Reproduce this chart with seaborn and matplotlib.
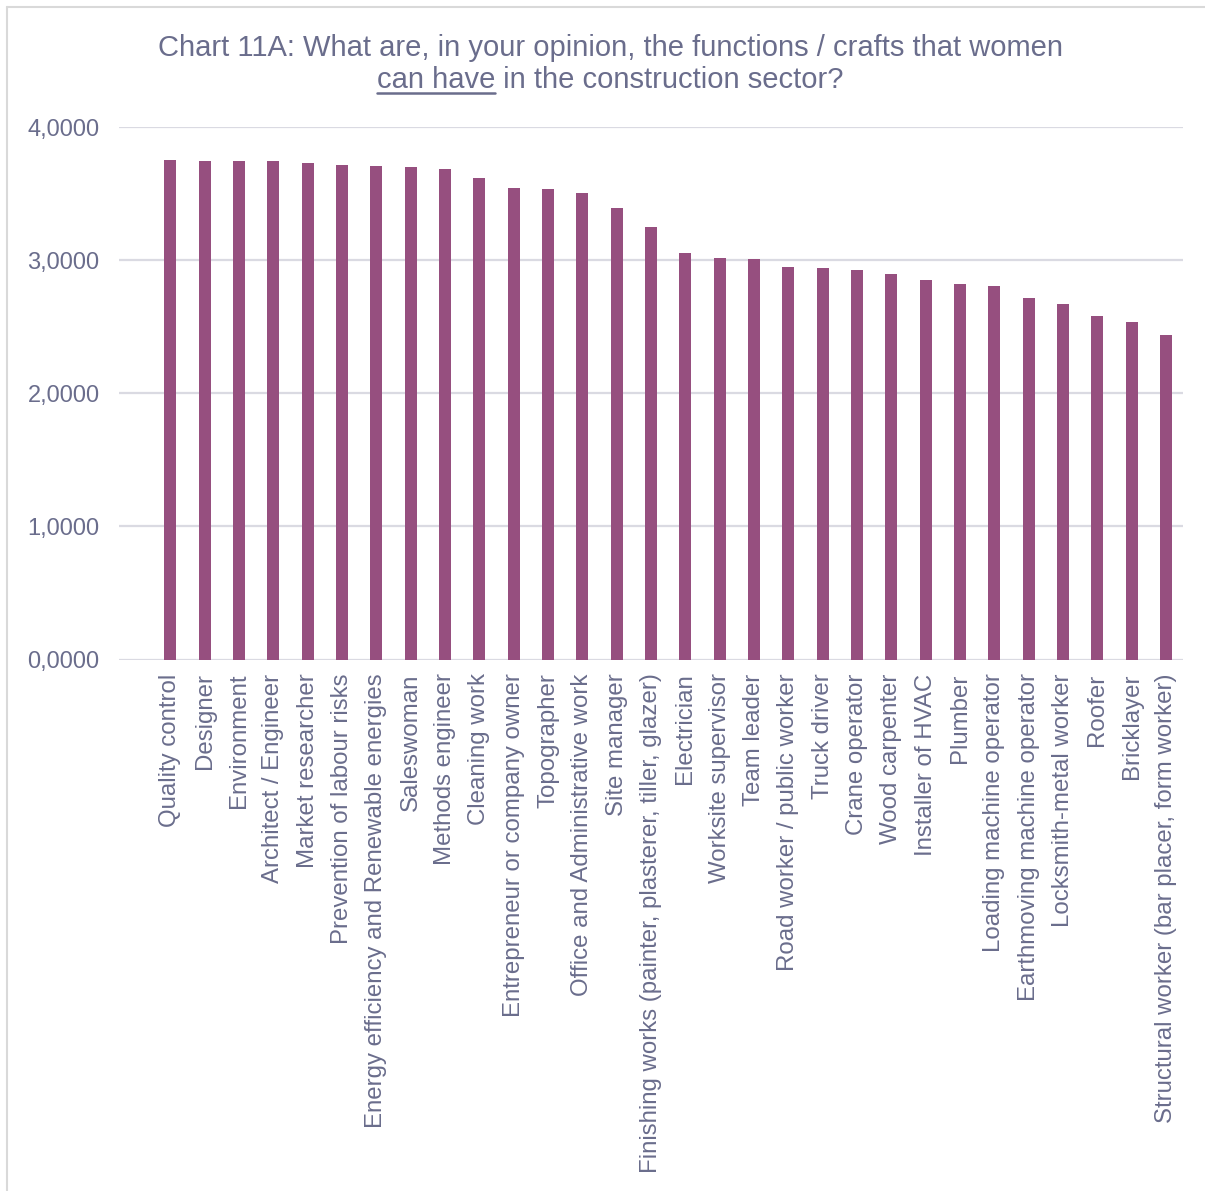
import matplotlib
matplotlib.use("Agg")
import matplotlib.pyplot as plt
from matplotlib.lines import Line2D
import seaborn as sns

categories = [
    "Quality control", "Designer", "Environment", "Architect / Engineer",
    "Market researcher", "Prevention of labour risks",
    "Energy efficiency and Renewable energies", "Saleswoman",
    "Methods engineer", "Cleaning work", "Entrepreneur or company owner",
    "Topographer", "Office and Administrative work", "Site manager",
    "Finishing works (painter, plasterer, tiller, glazer)", "Electrician",
    "Worksite supervisor", "Team leader", "Road worker / public worker",
    "Truck driver", "Crane operator", "Wood carpenter", "Installer of HVAC",
    "Plumber", "Loading machine operator", "Earthmoving machine operator",
    "Locksmith-metal worker", "Roofer", "Bricklayer",
    "Structural worker (bar placer, form worker)",
]
scores = [
    3.754, 3.749, 3.747, 3.744, 3.729, 3.717, 3.712, 3.699, 3.689, 3.617,
    3.546, 3.536, 3.509, 3.396, 3.248, 3.053, 3.015, 3.013, 2.953, 2.940,
    2.930, 2.895, 2.852, 2.820, 2.807, 2.714, 2.669, 2.579, 2.534, 2.436,
]
y_ticks = [0, 1, 2, 3, 4]
y_tick_labels = ["0,0000", "1,0000", "2,0000", "3,0000", "4,0000"]
title_line1 = "Chart 11A: What are, in your opinion, the functions / crafts that women"
title_emph = "can have"
title_rest = " in the construction sector?"

BAR = "#964f7f"
TEXT = "#6a6d8c"
GRID = "#dadae2"

sns.set_theme(style="white")
plt.rcParams["font.family"] = ["Liberation Sans", "DejaVu Sans"]

W, H = 1205, 1191
fig = plt.figure(figsize=(W / 100, H / 100), dpi=100)
fig.patch.set_facecolor("white")

left, right, top, bottom = 119, 1183, 127.3, 659.5
ax = fig.add_axes([left / W, 1 - bottom / H, (right - left) / W, (bottom - top) / H])

sns.barplot(x=categories, y=scores, color=BAR, saturation=1, width=0.35,
            ax=ax, linewidth=0)

ax.set_xlim(-1.5, 29.5)
ax.set_ylim(0, 4)
ax.set_yticks(y_ticks)
ax.set_yticklabels(y_tick_labels)
ax.yaxis.grid(True, color=GRID, linewidth=1.6)
ax.set_axisbelow(True)
for s in ax.spines.values():
    s.set_visible(False)
ax.set_xlabel("")
ax.set_ylabel("")
ax.tick_params(axis="y", length=0, pad=14, labelsize=17, labelcolor=TEXT)
ax.tick_params(axis="x", length=0, pad=10, labelsize=17.3, labelcolor=TEXT)
for lbl in ax.get_xticklabels():
    lbl.set_rotation(90)
    lbl.set_ha("center")
    lbl.set_va("top")

# title, second line with underlined emphasis
fs_title = 21
fig.text(610 / W, 1 - 56 / H, title_line1, ha="center", va="baseline",
         fontsize=fs_title, color=TEXT)
t_emph = fig.text(0, 1 - 88 / H, title_emph, ha="left", va="baseline",
                  fontsize=fs_title, color=TEXT)
t_rest = fig.text(0, 1 - 88 / H, title_rest, ha="left", va="baseline",
                  fontsize=fs_title, color=TEXT)
fig.canvas.draw()
r = fig.canvas.get_renderer()
w1 = t_emph.get_window_extent(r).width
w2 = t_rest.get_window_extent(r).width
x0 = 610 - (w1 + w2) / 2
t_emph.set_x(x0 / W)
t_rest.set_x((x0 + w1) / W)
fig.add_artist(Line2D([x0 / W, (x0 + w1) / W], [1 - 92.5 / H, 1 - 92.5 / H],
                      color=TEXT, linewidth=1.8))

# chart frame (top and left edges)
fig.add_artist(Line2D([7 / W, 1.0], [1 - 7 / H, 1 - 7 / H],
                      color="#d9d9d9", linewidth=1.5))
fig.add_artist(Line2D([7 / W, 7 / W], [0.0, 1 - 7 / H],
                      color="#d9d9d9", linewidth=1.5))

fig.savefig("out.png", dpi=100, facecolor="white")
